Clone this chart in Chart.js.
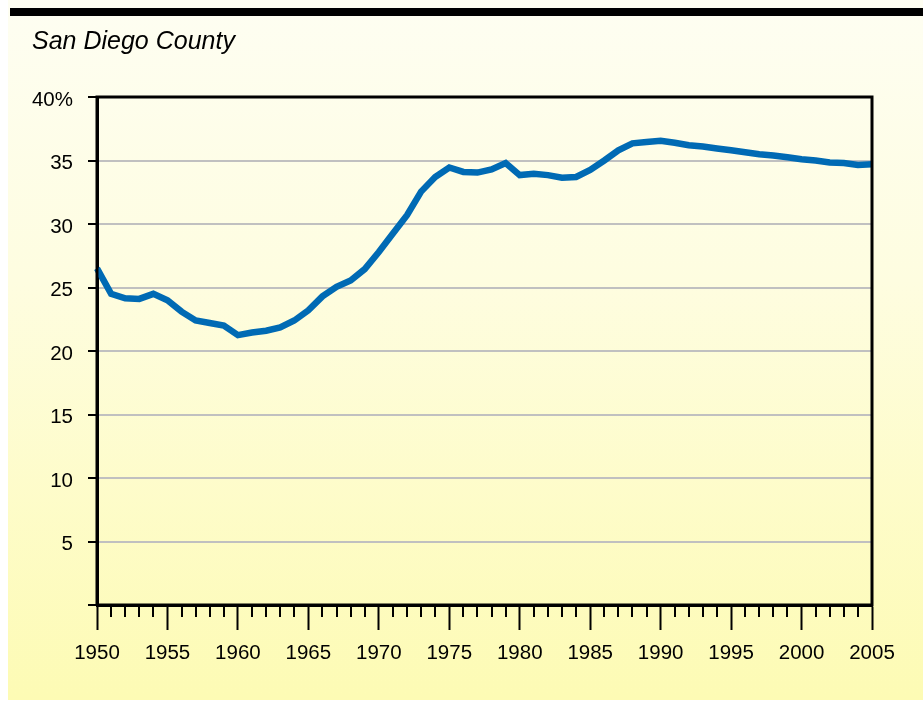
<!DOCTYPE html>
<html>
<head>
<meta charset="utf-8">
<script src="https://cdn.jsdelivr.net/npm/chart.js@4/dist/chart.umd.min.js"></script>
<style>
  html, body { margin: 0; padding: 0; background: #ffffff; }
  #wrap { position: relative; width: 923px; height: 704px; overflow: hidden; }
  #panel { position: absolute; left: 8px; top: 0; width: 915px; height: 700px;
           background: linear-gradient(to bottom, #fefef2 0%, #fefde0 40%, #fdfbb4 100%); }
  #bar { position: absolute; left: 10px; top: 8px; width: 913px; height: 8px; background: #000; }
  canvas { position: absolute; left: 0; top: 0; }
</style>
</head>
<body>
<div id="wrap">
  <div id="panel"></div>
  <div id="bar"></div>
  <canvas id="c" width="923" height="704"></canvas>
</div>
<script>
const titleText = 'San Diego County';
const years = [];
for (let y = 1950; y <= 2005; y++) years.push(y);
const sharePct = [
  26.5, 24.5, 24.15, 24.1, 24.5, 24.0, 23.1, 22.4, 22.2, 22.0,
  21.25, 21.45, 21.6, 21.85, 22.4, 23.2, 24.3, 25.05, 25.55, 26.45,
  27.8, 29.25, 30.7, 32.55, 33.7, 34.45, 34.1, 34.05, 34.3, 34.8,
  33.85, 33.95, 33.85, 33.65, 33.7, 34.25, 35.0, 35.8, 36.35, 36.45,
  36.55, 36.4, 36.2, 36.1, 35.95, 35.8, 35.65, 35.5, 35.4, 35.25,
  35.1, 35.0, 34.85, 34.8, 34.65, 34.7
];
const yTickValues = [0, 5, 10, 15, 20, 25, 30, 35, 40];
const yTopLabel = '40%';

const FONT = "'Liberation Sans', Arial, Helvetica, sans-serif";

const frame = {
  id: 'frame',
  afterDatasetsDraw(chart) {
    const a = chart.chartArea, ctx = chart.ctx;
    ctx.save();
    ctx.strokeStyle = '#000';
    ctx.lineWidth = 3;
    ctx.beginPath();
    ctx.moveTo(a.left, a.bottom);
    ctx.lineTo(a.left, a.top);
    ctx.lineTo(a.right, a.top);
    ctx.lineTo(a.right, a.bottom);
    ctx.lineTo(a.left, a.bottom);
    ctx.stroke();
    // minor year ticks
    const xs = chart.scales.x;
    ctx.lineWidth = 2;
    ctx.beginPath();
    for (const yr of years) {
      if (yr % 5 === 0) continue;
      const px = Math.round(xs.getPixelForValue(yr));
      ctx.moveTo(px, a.bottom);
      ctx.lineTo(px, a.bottom + 12);
    }
    ctx.stroke();
    ctx.restore();
  }
};

new Chart(document.getElementById('c'), {
  type: 'line',
  data: {
    datasets: [{
      data: years.map((y, i) => ({ x: y, y: sharePct[i] })),
      borderColor: '#006ab4',
      borderWidth: 6.5,
      pointRadius: 0,
      tension: 0,
      fill: false,
      clip: 4
    }]
  },
  options: {
    responsive: false,
    animation: false,
    devicePixelRatio: 1,
    layout: { padding: { left: 32, right: 51, top: 8, bottom: 0 } },
    plugins: {
      legend: { display: false },
      tooltip: { enabled: false },
      title: {
        display: true,
        text: titleText,
        align: 'start',
        color: '#000',
        font: { family: FONT, size: 25, style: 'italic', weight: 'normal' },
        padding: { top: 19, bottom: 40 }
      }
    },
    scales: {
      x: {
        type: 'linear',
        min: 1950, max: 2005,
        afterFit(s) { s.height = 99; },
        border: { display: true, color: '#000', width: 3 },
        grid: {
          drawOnChartArea: false,
          drawTicks: true,
          tickLength: 25,
          tickWidth: 2,
          tickColor: (ctx) => (ctx.tick && ctx.tick.value % 5 === 0) ? '#000' : 'rgba(0,0,0,0)'
        },
        ticks: {
          stepSize: 1,
          autoSkip: false,
          maxRotation: 0,
          padding: 11,
          color: '#000',
          font: { family: FONT, size: 20.5 },
          callback: (v) => (v % 5 === 0 ? String(v) : '')
        }
      },
      y: {
        min: 0, max: 40,
        afterFit(s) { s.width = 65; },
        border: { display: true, color: '#000', width: 3 },
        afterBuildTicks(s) { s.ticks = yTickValues.map(v => ({ value: v })); },
        grid: {
          color: (ctx) => (ctx.tick && (ctx.tick.value === 0 || ctx.tick.value === 40)) ? 'rgba(0,0,0,0)' : '#c0c0c0',
          lineWidth: 2,
          drawTicks: true,
          tickLength: 9,
          tickWidth: 2,
          tickColor: '#000'
        },
        ticks: {
          padding: 15,
          labelOffset: 3,
          color: '#000',
          font: { family: FONT, size: 20.5 },
          callback: (v) => (v === 0 ? '' : (v === 40 ? yTopLabel : String(v)))
        }
      }
    }
  },
  plugins: [frame]
});
</script>
</body>
</html>
